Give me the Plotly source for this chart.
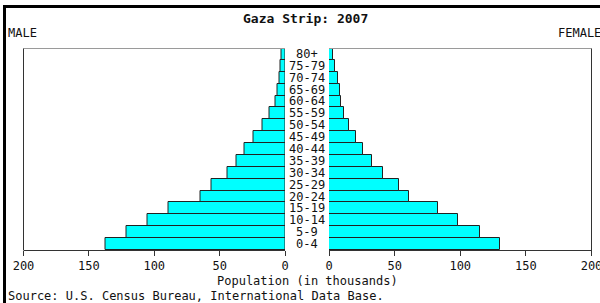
import plotly.graph_objects as go

ages = ["0-4", "5-9", "10-14", "15-19", "20-24", "25-29", "30-34", "35-39",
        "40-44", "45-49", "50-54", "55-59", "60-64", "65-69", "70-74", "75-79", "80+"]
male = [137, 121, 105, 89, 65, 56, 44, 37, 31, 24, 17, 12, 7.5, 5.5, 4.5, 3.5, 2.5]
female = [130, 115, 98, 83, 61, 53, 41, 33, 26, 20.5, 15, 11.5, 9, 8, 6.5, 4.5, 3]
tick_vals = [0, 50, 100, 150, 200]
tick_text = ["0", "50", "100", "150", "200"]

W, H = 600, 303
def px(x):
    return x / W
def py(y):
    return 1 - y / H

FONT = "DejaVu Sans Mono"
BAR_FILL = "#00FFFF"
BAR_LINE = "#222222"

fig = go.Figure()
fig.add_trace(go.Bar(y=ages, x=male, orientation="h", xaxis="x", yaxis="y",
                     marker=dict(color=BAR_FILL, line=dict(color=BAR_LINE, width=1)),
                     showlegend=False, hoverinfo="x+y"))
fig.add_trace(go.Bar(y=ages, x=female, orientation="h", xaxis="x2", yaxis="y2",
                     marker=dict(color=BAR_FILL, line=dict(color=BAR_LINE, width=1)),
                     showlegend=False, hoverinfo="x+y"))

axis_common = dict(showgrid=False, zeroline=False, showline=True, linecolor="#333333",
                   linewidth=1, ticks="outside", ticklen=5, tickcolor="#333333",
                   tickvals=tick_vals, ticktext=tick_text, automargin=False,
                   ticklabeloverflow="allow",
                   tickfont=dict(family=FONT, size=12, color="#111111"), fixedrange=True)
yaxis_common = dict(showgrid=False, zeroline=False, showline=False, showticklabels=False,
                    ticks="", categoryorder="array", categoryarray=ages, automargin=False,
                    range=[-0.5, len(ages) - 0.5], domain=[py(250), py(48)], fixedrange=True)

shapes = []
# outer black frame (left and top)
shapes.append(dict(type="line", xref="paper", yref="paper", x0=px(4.5), x1=px(4.5),
                   y0=py(5), y1=py(310), line=dict(color="black", width=3)))
shapes.append(dict(type="line", xref="paper", yref="paper", x0=px(3), x1=px(602),
                   y0=py(6.5), y1=py(6.5), line=dict(color="black", width=3)))
# panel borders
shapes.append(dict(type="line", xref="paper", yref="paper", x0=px(23.5), x1=px(285),
                   y0=py(48.5), y1=py(48.5), line=dict(color="#9a9a9a", width=1)))
shapes.append(dict(type="line", xref="paper", yref="paper", x0=px(23.5), x1=px(23.5),
                   y0=py(48.5), y1=py(250.5), line=dict(color="#333333", width=1)))
shapes.append(dict(type="line", xref="paper", yref="paper", x0=px(329), x1=px(591.5),
                   y0=py(48.5), y1=py(48.5), line=dict(color="#9a9a9a", width=1)))
shapes.append(dict(type="line", xref="paper", yref="paper", x0=px(591.5), x1=px(591.5),
                   y0=py(48.5), y1=py(250.5), line=dict(color="#333333", width=1)))

annotations = []
def txt(s, x, y, xanchor="center", size=12, bold=False):
    annotations.append(dict(text=("<b>%s</b>" % s) if bold else s, xref="paper", yref="paper",
                            x=px(x), y=py(y), xanchor=xanchor, yanchor="middle",
                            showarrow=False, font=dict(family=FONT, size=size, color="#111111")))

txt("Gaza Strip: 2007", 305, 18, size=13, bold=True)
txt("MALE", 6, 33, xanchor="left")
txt("FEMALE", 603, 33, xanchor="right")
txt("Population (in thousands)", 307.5, 281)
txt("Source: U.S. Census Bureau, International Data Base.", 6, 296, xanchor="left")

# age labels in the centre column, positioned on the shared category axis
for a in ages:
    annotations.append(dict(text=a, xref="paper", yref="y", x=px(307), y=a,
                            xanchor="center", yanchor="middle", showarrow=False,
                            font=dict(family=FONT, size=12, color="#111111")))

fig.update_layout(
    template="none",
    width=W, height=H, margin=dict(l=0, r=0, t=0, b=0, pad=0, autoexpand=False),
    paper_bgcolor="white", plot_bgcolor="white",
    bargap=0,
    xaxis=dict(domain=[px(23.5), px(285)], range=[200, 0], anchor="y", **axis_common),
    xaxis2=dict(domain=[px(329), px(591.5)], range=[0, 200], anchor="y2", **axis_common),
    yaxis=dict(anchor="x", **yaxis_common),
    yaxis2=dict(anchor="x2", **yaxis_common),
    shapes=shapes, annotations=annotations,
)

fig.write_html("out.html", config={"displayModeBar": False},
               post_script="document.body.style.margin='0';document.body.style.overflow='hidden';")
